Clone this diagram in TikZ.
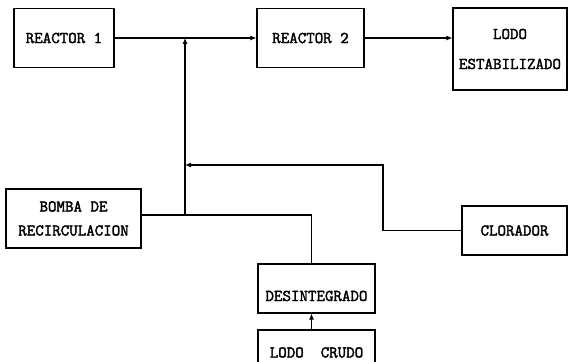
\documentclass[tikz,border=0pt]{standalone}
\usepackage{fontspec}
\setmonofont{Latin Modern Mono}[AutoFakeBold=2.2]
\usepackage{tikz}
\usetikzlibrary{arrows.meta,positioning,calc}

\begin{document}
\begin{tikzpicture}[
  x=1pt, y=-1pt,
  font=\ttfamily\bfseries\fontsize{16.5}{19}\selectfont,
  blk/.style={draw, line width=1.1pt, inner sep=0pt, align=center},
  arrow/.style={-{Latex[length=6pt,width=5pt]}, line width=1.1pt},
  wire/.style={line width=1.1pt}
]
\useasboundingbox (0,0) rectangle (569,361);
\node[blk, minimum width=100, minimum height=59] (r1) at (64,38) {REACTOR 1};
\node[blk, minimum width=107, minimum height=59] (r2) at (310.5,38) {REACTOR 2};
\node[blk, minimum width=114, minimum height=82] (est) at (510,49)
  {LODO\\[11pt]ESTABILIZADO};
\node[blk, minimum width=135, minimum height=59] (bomba) at (73.5,218.5)
  {BOMBA DE\\[5pt]RECIRCULACION};
\node[blk, minimum width=105, minimum height=49] (clor) at (514.5,230.5) {CLORADOR};
\node[blk, minimum width=117, minimum height=49, text height=28pt, text depth=3pt]
  (des) at (316.5,288.5) {DESINTEGRADO};
\node[blk, minimum width=117, minimum height=34, text height=24pt, text depth=3pt]
  (crudo) at (316.5,347) {LODO~~CRUDO};
% puntos de union
\coordinate (m1) at (185,38);
\coordinate (m2) at (185,165);
\coordinate (j1) at (185,215);
\coordinate (c1) at (383,165);
\draw[arrow] (r1) -- (r2);
\draw[arrow] (r2.east) -- (r2.east -| est.west);
\draw[arrow] (j1) -- (m1);
\draw[wire] (bomba.east |- j1) -| ([xshift=-5pt]des.north);
\draw[arrow] (clor.west) -| (c1) -- (m2);
\draw[arrow] ([xshift=-5pt]crudo.north) -- ([xshift=-5pt]des.south);
\end{tikzpicture}
\end{document}
